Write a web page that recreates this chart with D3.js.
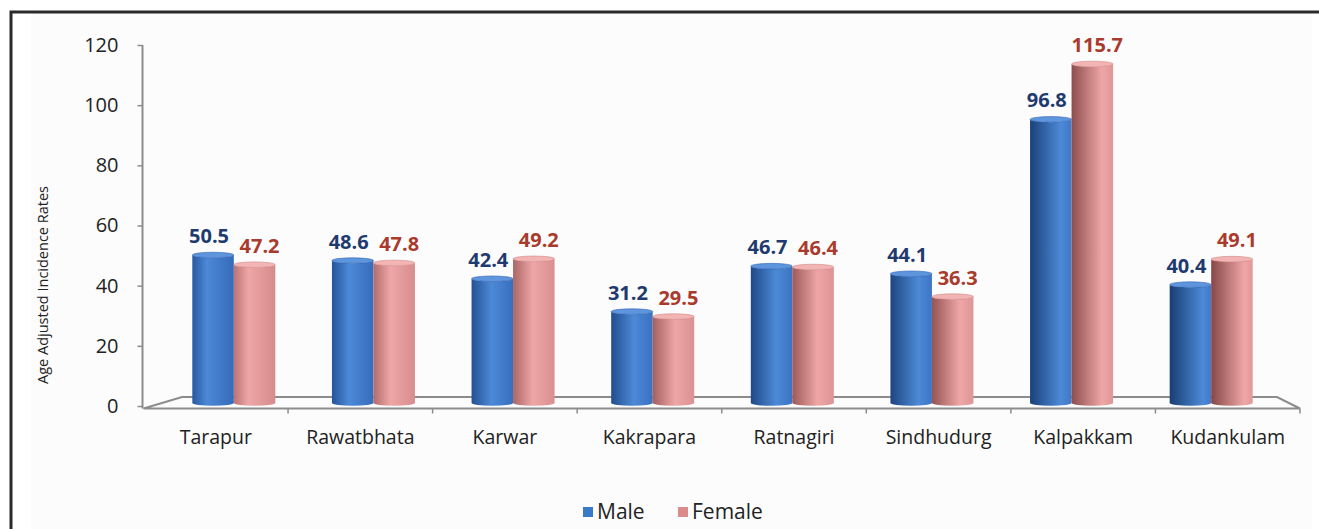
<!DOCTYPE html>
<html>
<head>
<meta charset="utf-8">
<script src="https://cdn.jsdelivr.net/npm/d3@7/dist/d3.min.js"></script>
<style>
  html, body { margin: 0; padding: 0; background: #ffffff; }
  svg { display: block; }
  text { font-family: "Open Sans", "Liberation Sans", sans-serif; }
</style>
</head>
<body>
<svg id="chart" width="1319" height="529"></svg>
<script>
const categories = ["Tarapur", "Rawatbhata", "Karwar", "Kakrapara", "Ratnagiri", "Sindhudurg", "Kalpakkam", "Kudankulam"];
const maleValues = [50.5, 48.6, 42.4, 31.2, 46.7, 44.1, 96.8, 40.4];
const femaleValues = [47.2, 47.8, 49.2, 29.5, 46.4, 36.3, 115.7, 49.1];
const seriesNames = ["Male", "Female"];
const yTicks = [0, 20, 40, 60, 80, 100, 120];
const yTitle = "Age Adjusted Incidence Rates";

const svg = d3.select("#chart");
const defs = svg.append("defs");

// frame
svg.append("rect").attr("x", 31).attr("y", 14).attr("width", 1281).attr("height", 520).attr("fill", "#fcfcfc");
svg.append("path").attr("d", "M11,535 L11,12 L1319,12").attr("fill", "none").attr("stroke", "#2a2a2a").attr("stroke-width", 3);

// scales
const yAxisScale = d3.scaleLinear().domain([0, 120]).range([406, 45]);
const yBar = d3.scaleLinear().domain([0, 120]).range([403, 403 - 120 * 2.93]);
const xFront = d3.scaleBand().domain(categories).range([143.5, 1300]);
const xBack = d3.scaleBand().domain(categories).range([182, 1277]);
const xBar = d3.scaleBand().domain(categories).range([164, 1281]);
const pairW = 83;
const xSub = d3.scaleBand().domain(seriesNames).range([(xBar.bandwidth() - pairW) / 2, (xBar.bandwidth() + pairW) / 2]);

const axisColor = "#8c8c8c";
const floorFrontY = 408.5, floorBackY = 397;

// floor
const floor = svg.append("g").attr("fill", "none").attr("stroke", axisColor).attr("stroke-width", 2);
const fx0 = xFront.range()[0], fx1 = xFront.range()[1];
const bx0 = xBack.range()[0], bx1 = xBack.range()[1];
floor.append("path").attr("d", `M${fx0},${floorFrontY} L${bx0},${floorBackY} L${bx1},${floorBackY} L${fx1},${floorFrontY} Z`);
floor.append("line").attr("x1", fx1).attr("x2", fx1).attr("y1", floorFrontY).attr("y2", floorFrontY + 5).attr("stroke-width", 1.5);
svg.append("g").selectAll("line").data(categories.slice(1)).join("line")
  .attr("x1", d => xFront(d)).attr("x2", d => xFront(d))
  .attr("y1", floorFrontY).attr("y2", floorFrontY + 5)
  .attr("stroke", axisColor).attr("stroke-width", 1.5);

// y axis
const yAxis = svg.append("g").attr("transform", "translate(142.5,0)")
  .call(d3.axisLeft(yAxisScale).tickValues(yTicks).tickSize(5).tickPadding(19).tickFormat(d3.format("d")));
yAxis.select(".domain").attr("stroke", axisColor).attr("stroke-width", 2).attr("d", `M0,${yAxisScale(120)}V${floorFrontY}`);
yAxis.selectAll(".tick line").attr("stroke", axisColor).attr("stroke-width", 1.5);
yAxis.selectAll(".tick text").attr("font-size", 20).attr("fill", "#222").attr("font-family", "'Open Sans', sans-serif");

// y title
svg.append("text").attr("transform", "translate(48,285) rotate(-90)")
  .attr("text-anchor", "middle").attr("font-size", 14.5).attr("fill", "#222").text(yTitle);

// x axis labels
const xAxis = svg.append("g").attr("transform", `translate(0,${floorFrontY})`)
  .call(d3.axisBottom(xFront).tickSize(0).tickPadding(22));
xAxis.select(".domain").remove();
xAxis.selectAll(".tick text").attr("font-size", 19.5).attr("fill", "#222").attr("font-family", "'Open Sans', sans-serif");

// gradients per category / series
const palette = {
  Male: { dark: "#143768", mid: "#2f63b3", light: "#4c89d6", top: "#5f95dc", label: "#1f3a6e", nudge: -4 },
  Female: { dark: "#7a3c3c", mid: "#cf8484", light: "#efa6a6", top: "#f3b4b4", label: "#a93a2c", nudge: 5 }
};
categories.forEach((c, i) => {
  const t = i / (categories.length - 1);
  seriesNames.forEach(s => {
    const p = palette[s];
    const g = defs.append("linearGradient").attr("id", `g${i}${s}`).attr("x1", "0").attr("x2", "1").attr("y1", "0").attr("y2", "0");
    const hl = 0.35 + 0.45 * t;
    g.append("stop").attr("offset", "0").attr("stop-color", d3.interpolateRgb(p.mid, p.dark)(0.25 + 0.6 * t));
    g.append("stop").attr("offset", hl).attr("stop-color", p.light);
    g.append("stop").attr("offset", "1").attr("stop-color", d3.interpolateRgb(p.light, p.mid)(0.8 - 0.4 * t));
  });
});

const rows = categories.map((c, i) => ({ c, i, Male: maleValues[i], Female: femaleValues[i] }));
const bw = xSub.bandwidth();
const ry = 2.8;

const barG = svg.append("g");
rows.forEach(r => {
  seriesNames.forEach(s => {
    const x0 = xBar(r.c) + xSub(s);
    const x1 = x0 + bw;
    const yT = yBar(r[s]);
    const yB = yBar(0);
    const rx = bw / 2;
    barG.append("path")
      .attr("d", `M${x0},${yT} L${x0},${yB} A${rx},${ry} 0 0 0 ${x1},${yB} L${x1},${yT} A${rx},${ry} 0 0 1 ${x0},${yT} Z`)
      .attr("fill", `url(#g${r.i}${s})`);
    barG.append("ellipse").attr("cx", x0 + rx).attr("cy", yT).attr("rx", rx).attr("ry", ry)
      .attr("fill", palette[s].top).attr("stroke", palette[s].mid).attr("stroke-width", 0.6);
  });
});

// value labels
const lblG = svg.append("g").attr("font-weight", "bold").attr("font-size", 20).attr("text-anchor", "middle");
rows.forEach(r => {
  seriesNames.forEach(s => {
    lblG.append("text")
      .attr("x", xBar(r.c) + xSub(s) + bw / 2 + palette[s].nudge)
      .attr("y", yBar(r[s]) - 12)
      .attr("fill", palette[s].label)
      .text(d3.format(".1f")(r[s]));
  });
});

// legend
const legX = d3.scalePoint().domain(seriesNames).range([583, 678]);
const leg = svg.append("g");
seriesNames.forEach(s => {
  leg.append("rect").attr("x", legX(s)).attr("y", 507).attr("width", 10).attr("height", 10)
    .attr("fill", s === "Male" ? "#3a78c8" : "#dc8a8a");
  leg.append("text").attr("x", legX(s) + 14).attr("y", 519).attr("font-size", 21).attr("fill", "#222").text(s);
});
</script>
</body>
</html>
